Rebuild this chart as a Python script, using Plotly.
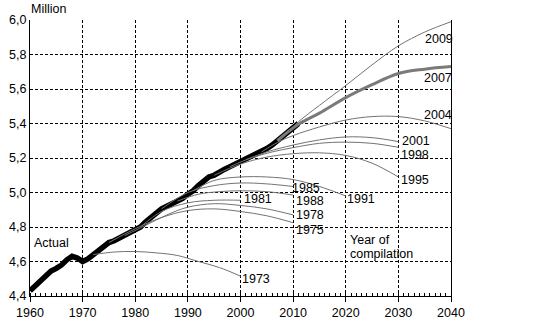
import plotly.graph_objects as go

# Actual population (million)
actual_years = list(range(1960, 2012))
actual_vals = [4.43, 4.46, 4.49, 4.52, 4.545, 4.56, 4.58, 4.61, 4.63, 4.62,
               4.60, 4.615, 4.64, 4.67, 4.69, 4.71, 4.72, 4.735, 4.75, 4.765,
               4.785, 4.80, 4.83, 4.86, 4.88, 4.905, 4.92, 4.935, 4.95, 4.965,
               4.99, 5.01, 5.04, 5.07, 5.09, 5.10, 5.12, 5.135, 5.15, 5.165,
               5.18, 5.19, 5.205, 5.22, 5.235, 5.255, 5.275, 5.30, 5.325, 5.35,
               5.375, 5.40]

# Projections by year of compilation
proj = {
    "1973": ([1972, 1976, 1980, 1984, 1988, 1992, 1996, 2000],
             [4.64, 4.655, 4.658, 4.65, 4.635, 4.60, 4.565, 4.515]),
    "1975": ([1975, 1980, 1985, 1990, 1995, 2000, 2005, 2010],
             [4.71, 4.79, 4.855, 4.895, 4.905, 4.89, 4.865, 4.825]),
    "1978": ([1978, 1982, 1986, 1990, 1995, 2000, 2005, 2010],
             [4.75, 4.81, 4.87, 4.915, 4.935, 4.925, 4.905, 4.87]),
    "1981": ([1981, 1985, 1990, 1995, 2000],
             [4.80, 4.89, 4.94, 4.955, 4.955]),
    "1985": ([1985, 1990, 1995, 2000, 2005, 2010],
             [4.905, 5.0, 5.04, 5.055, 5.05, 5.035]),
    "1988": ([1988, 1992, 1996, 2000, 2005, 2010],
             [4.95, 4.99, 5.005, 5.01, 5.005, 4.985]),
    "1991": ([1991, 1995, 2000, 2005, 2010, 2015, 2020],
             [5.01, 5.07, 5.09, 5.09, 5.075, 5.035, 4.98]),
    "1995": ([1995, 2000, 2005, 2010, 2015, 2020, 2025, 2030],
             [5.10, 5.165, 5.205, 5.225, 5.23, 5.215, 5.17, 5.09]),
    "1998": ([1998, 2002, 2006, 2010, 2015, 2020, 2025, 2030],
             [5.15, 5.20, 5.235, 5.26, 5.285, 5.292, 5.285, 5.262]),
    "2001": ([2001, 2005, 2010, 2015, 2020, 2025, 2030],
             [5.19, 5.235, 5.275, 5.305, 5.322, 5.318, 5.295]),
    "2004": ([2004, 2007, 2010, 2015, 2020, 2025, 2030, 2035, 2040],
             [5.235, 5.29, 5.33, 5.38, 5.42, 5.44, 5.44, 5.415, 5.37]),
    "2007": ([2007, 2011, 2015, 2020, 2025, 2030, 2035, 2040],
             [5.30, 5.395, 5.46, 5.55, 5.625, 5.69, 5.715, 5.73]),
    "2009": ([2009, 2011, 2015, 2020, 2025, 2030, 2035, 2040],
             [5.35, 5.41, 5.505, 5.62, 5.74, 5.85, 5.93, 5.99]),
}

# Label anchor positions (year, value) for projection labels
label_pos = {
    "2009": (2035.25, 5.887), "2007": (2035.1, 5.664), "2004": (2035.1, 5.452),
    "2001": (2030.8, 5.296), "1998": (2030.7, 5.217), "1995": (2030.7, 5.075),
    "1991": (2020.5, 4.962), "1985": (2010.0, 5.026), "1988": (2010.7, 4.950),
    "1981": (2000.9, 4.962), "1978": (2010.7, 4.868), "1975": (2010.7, 4.784),
    "1973": (2000.5, 4.496),
}

FAM = "Liberation Sans, Arial, sans-serif"
font = dict(family=FAM, size=12.5, color="black")

fig = go.Figure()
fig.add_trace(go.Scatter(x=actual_years, y=actual_vals, mode="lines",
                         line=dict(color="black", width=5.5), showlegend=False))
for name, (xs, ys) in proj.items():
    w = 3 if name == "2007" else 1
    col = "#7a7a7a" if name == "2007" else "#737373"
    fig.add_trace(go.Scatter(x=xs, y=ys, mode="lines",
                             line=dict(color=col, width=w, shape="spline", smoothing=1),
                             showlegend=False))

for name, (lx, ly) in label_pos.items():
    fig.add_annotation(x=lx, y=ly, text=name, showarrow=False, xanchor="left",
                       yanchor="middle", font=font, xshift=-2, borderpad=0)

fig.add_annotation(x=1960.95, y=4.707, text="Actual", showarrow=False, xanchor="left",
                   yanchor="middle", font=font, xshift=-2, borderpad=0)
fig.add_annotation(x=2020.94, y=4.725, text="Year of", showarrow=False, xanchor="left",
                   yanchor="middle", font=font, xshift=-2, borderpad=0)
fig.add_annotation(x=2020.94, y=4.643, text="compilation", showarrow=False, xanchor="left",
                   yanchor="middle", font=font, xshift=-2, borderpad=0)
fig.add_annotation(xref="paper", yref="paper", x=0, y=1, yshift=11, text="Million",
                   showarrow=False, xanchor="left", yanchor="middle", font=font, borderpad=0)

fig.update_layout(
    width=541, height=323,
    margin=dict(l=30, r=90, t=20, b=27, autoexpand=False),
    paper_bgcolor="white", plot_bgcolor="white",
    separators=", ",
    font=font,
    xaxis=dict(range=[1960, 2040], dtick=10, tick0=1960, showgrid=True,
               gridcolor="black", griddash="3px,2px", gridwidth=1,
               showline=True, linecolor="black", linewidth=1,
               ticks="outside", ticklen=5, tickcolor="black",
               automargin=False,
               minor=dict(dtick=1, ticks="inside", ticklen=3, tickcolor="black", showgrid=False),
               zeroline=False, fixedrange=True, tickfont=font),
    yaxis=dict(range=[4.4, 6.0], dtick=0.2, tick0=4.4, tickformat=".1f",
               showgrid=True, gridcolor="black", griddash="3px,2px", gridwidth=1,
               showline=True, linecolor="black", linewidth=1, mirror=True,
               ticks="", zeroline=False, fixedrange=True, tickfont=font,
               automargin=False),
)

fig.write_html("out.html")
